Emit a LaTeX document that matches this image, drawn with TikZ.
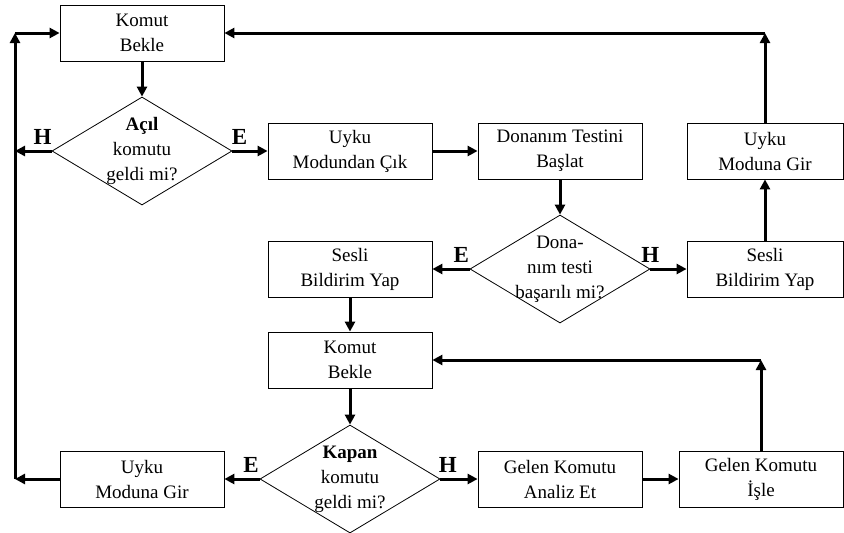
\documentclass[tikz,border=0pt]{standalone}
\usepackage{fontspec}
\setmainfont{Liberation Serif}
\usetikzlibrary{shapes,arrows,arrows.meta}
\tikzstyle{block} = [draw, line width=0.8pt, rectangle, minimum width=164pt, minimum height=56pt, align=center, inner sep=2pt]
\tikzstyle{decision} = [draw, line width=0.8pt, diamond, aspect=1.667, minimum width=180pt, minimum height=108pt, inner sep=-20pt, align=center]
\tikzstyle{yn} = [font=\fontsize{23}{23}\selectfont\bfseries, above, inner sep=5pt]

\begin{document}
\begin{tikzpicture}[->,>={Triangle[length=10pt,width=10pt]},line width=3pt,node distance=118pt,font=\fontsize{19}{25}\selectfont]
  \useasboundingbox (0,0) rectangle (844pt,-533pt);

  \node[block] (kb1) at (142pt,-33pt) {Komut\\Bekle};
  \node[decision] (d1) [below of = kb1] {\textbf{Açıl}\\komutu\\geldi mi?};
  \node[block] (cik) [right of = d1, node distance=208pt] {Uyku\\Modundan Çık};
  \node[block] (test) [right of = cik, node distance=210pt] {Donanım Testini\\Başlat};
  \node[decision] (d2) [below of = test] {Dona-\\nım testi\\başarılı mi?};
  \node[block] (sesliL) [left of = d2, node distance=210pt] {Sesli\\Bildirim Yap};
  \node[block, minimum width=156pt] (sesliR) [right of = d2, node distance=205pt] {Sesli\\Bildirim Yap};
  \node[block, minimum width=156pt] (uykuR) [above of = sesliR] {Uyku\\Moduna Gir};
  \node[block] (kb2) [below of = sesliL, node distance=91pt] {Komut\\Bekle};
  \node[decision] (d3) [below of = kb2, node distance=119pt] {\textbf{Kapan}\\komutu\\geldi mi?};
  \node[block] (uykuL) [left of = d3, node distance=208pt] {Uyku\\Moduna Gir};
  \node[block] (analiz) [right of = d3, node distance=210pt] {Gelen Komutu\\Analiz Et};
  \node[block] (isle) [right of = analiz, node distance=201pt] {Gelen Komutu\\İşle};

  % corners of the return lines
  \coordinate (tl) at (15pt,-33pt);
  \coordinate (bl) at (15pt,-479pt);
  \coordinate (lh) at (d1.west -| tl);
  \coordinate (tr) at (uykuR.north |- kb1);
  \coordinate (br) at (isle.north |- kb2);

  \path
    (kb1) edge (d1)
    (d1.west) edge node[yn, pos=0.25] {H} (lh)
    (d1.east) edge node[yn, pos=0.2] {E} (cik)
    (cik) edge (test)
    (test) edge (d2)
    (d2.west) edge node[yn, pos=0.22] {E} (sesliL)
    (d2.east) edge node[yn, pos=0] {H} (sesliR)
    (sesliR) edge (uykuR)
    (uykuR) edge (tr)
    (tr) edge (kb1)
    (sesliL) edge (kb2)
    (kb2) edge (d3)
    (d3.west) edge node[yn, pos=0.24] {E} (uykuL)
    (d3.east) edge node[yn, pos=0.2] {H} (analiz)
    (analiz) edge (isle)
    (isle) edge (br)
    (br) edge (kb2)
    (uykuL) edge (bl)
    (bl) edge (tl)
    (tl) edge (kb1);

\end{tikzpicture}
\end{document}
